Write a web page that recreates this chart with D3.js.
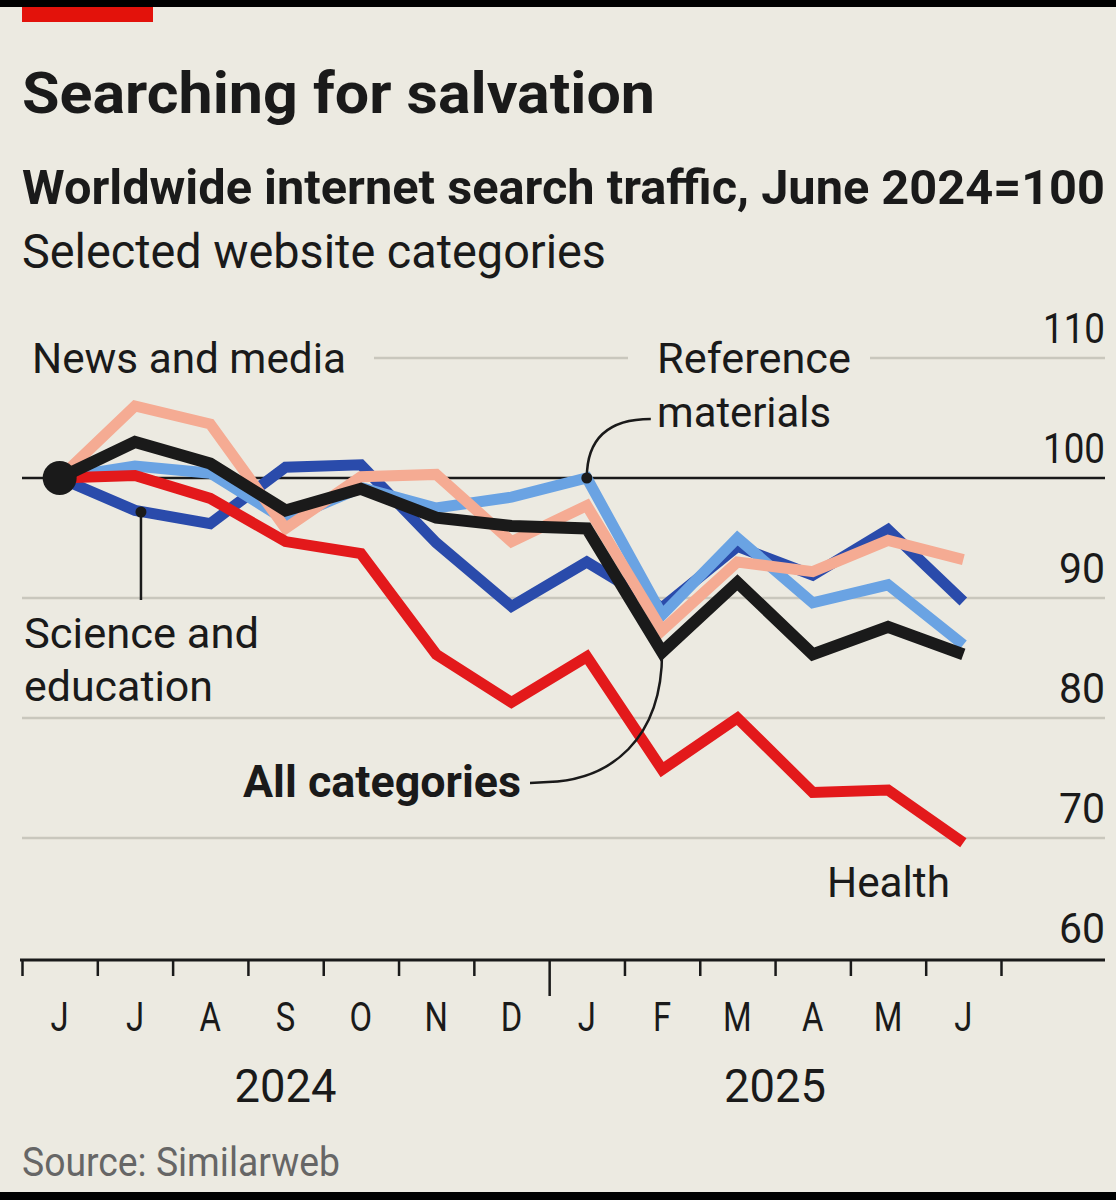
<!DOCTYPE html>
<html>
<head lang="en">
    <meta charset="UTF-8">
    <title>Searching for salvation</title>
    <script src="https://d3js.org/d3.v7.min.js"></script>
</head>
<body style="margin:0;background:#eceae1">
<svg id="chart" width="1116" height="1200"></svg>
<style>
    text { font-family: Roboto, "Liberation Sans", sans-serif; fill: #1a1a1a; }
</style>
<script>

    // data (June 2024 = 100)
    const MONTHS = ["J","J","A","S","O","N","D","J","F","M","A","M","J"];
    const YEARS = [{label:"2024", from:0, to:7}, {label:"2025", from:7, to:13}];
    const Y_TICKS = [60, 70, 80, 90, 100, 110];

    const SCIENCE   = [100, 97.3, 96.2, 100.9, 101.1, 94.6, 89.3, 93.0, 89.2, 94.3, 91.9, 95.7, 89.7];
    const REFERENCE = [100, 101.0, 100.4, 96.5, 99.2, 97.5, 98.4, 100, 88.6, 95.0, 89.6, 91.1, 86.1];
    const NEWS      = [100, 106.0, 104.5, 95.8, 100.1, 100.3, 94.7, 97.7, 87.3, 93.0, 92.2, 94.8, 93.2];
    const HEALTH    = [100, 100.2, 98.3, 94.7, 93.7, 85.3, 81.3, 85.1, 75.7, 80.0, 73.8, 74.0, 69.6];
    const ALL       = [100, 103.0, 101.2, 97.3, 99.1, 96.7, 96.0, 95.8, 85.5, 91.3, 85.3, 87.6, 85.3];

    const SERIES = [
        {name:"Science and education", values:SCIENCE, color:"#2a4bab", width:11},
        {name:"Reference materials", values:REFERENCE, color:"#6aa3e3", width:11},
        {name:"News and media", values:NEWS, color:"#f5ab93", width:11},
        {name:"Health", values:HEALTH, color:"#e3191b", width:11},
        {name:"All categories", values:ALL, color:"#1a1a1a", width:12}
    ];

    const BG = "#eceae1";
    let svg = d3.select('#chart');

    // frame
    svg.append('rect').attr('width', 1116).attr('height', 1200).attr('fill', BG);
    svg.append('rect').attr('width', 1116).attr('height', 7).attr('fill', '#000');
    svg.append('rect').attr('y', 1192).attr('width', 1116).attr('height', 8).attr('fill', '#000');
    svg.append('rect').attr('x', 22).attr('y', 7).attr('width', 131).attr('height', 15).attr('fill', '#e3120b');

    function txt(x, y, s, size, opts) {
        opts = opts || {};
        let t = svg.append('text')
            .attr('x', x).attr('y', y)
            .attr('font-size', size)
            .attr('font-weight', opts.weight || 400)
            .attr('text-anchor', opts.anchor || 'start')
            .text(s);
        if (opts.fill) t.style('fill', opts.fill);
        if (opts.len) t.attr('textLength', opts.len).attr('lengthAdjust', 'spacingAndGlyphs');
        return t;
    }

    // titles
    txt(22, 113, "Searching for salvation", 58, {weight:700, len:633});
    txt(22, 204, "Worldwide internet search traffic, June 2024=100", 49, {weight:700, len:1083});
    txt(22, 268, "Selected website categories", 48, {len:584});

    // scales
    let x = d3.scaleLinear().domain([0, MONTHS.length]).range([22, 1001]);
    let y = d3.scaleLinear().domain([60, 110]).range([958, 358]);
    const right = 1105;

    // gridlines
    svg.append('g').selectAll('line').data(Y_TICKS.filter(d => d !== 60 && d !== 100)).enter()
        .append('line')
        .attr('x1', 22).attr('x2', right)
        .attr('y1', d => y(d)).attr('y2', d => y(d))
        .attr('stroke', '#c9c7bd').attr('stroke-width', 2.5);

    // gaps in the 110 line behind the top labels
    svg.append('rect').attr('x', 22).attr('y', y(110) - 5).attr('width', 352).attr('height', 10).attr('fill', BG);
    svg.append('rect').attr('x', 628).attr('y', y(110) - 5).attr('width', 242).attr('height', 10).attr('fill', BG);

    // y labels
    svg.append('g').selectAll('text').data(Y_TICKS).enter()
        .append('text')
        .attr('x', right).attr('y', d => y(d) - 15)
        .attr('text-anchor', 'end')
        .attr('font-size', 42)
        .attr('textLength', d => d >= 100 ? 62 : 46)
        .attr('lengthAdjust', 'spacingAndGlyphs')
        .text(d => d);

    // x axis
    let xAxis = svg.append('g')
        .attr('transform', `translate(0,${y(60) + 2})`)
        .call(d3.axisBottom(x).tickValues(d3.range(MONTHS.length + 1)).tickFormat('').tickSize(16).tickSizeOuter(0));
    xAxis.select('.domain').remove();
    xAxis.selectAll('.tick line').attr('stroke', '#1a1a1a').attr('stroke-width', 2.5)
        .attr('y2', d => d === 7 ? 36 : 16);
    svg.append('line').attr('x1', 20).attr('x2', right)
        .attr('y1', y(60) + 2).attr('y2', y(60) + 2)
        .attr('stroke', '#1a1a1a').attr('stroke-width', 3);

    svg.append('g').selectAll('text').data(MONTHS).enter()
        .append('text')
        .attr('x', (d, i) => x(i + 0.5)).attr('y', 1031)
        .attr('text-anchor', 'middle')
        .attr('font-size', 41)
        .attr('transform', (d, i) => `translate(${x(i + 0.5)},0) scale(0.8,1) translate(${-x(i + 0.5)},0)`)
        .text(d => d);

    svg.append('g').selectAll('text').data(YEARS).enter()
        .append('text')
        .attr('x', d => x((d.from + d.to) / 2)).attr('y', 1102)
        .attr('text-anchor', 'middle')
        .attr('font-size', 46)
        .attr('textLength', 102).attr('lengthAdjust', 'spacingAndGlyphs')
        .text(d => d.label);

    // 100 baseline
    svg.append('line').attr('x1', 22).attr('x2', right)
        .attr('y1', y(100)).attr('y2', y(100))
        .attr('stroke', '#1a1a1a').attr('stroke-width', 2.5);

    // lines
    let line = d3.line().x((d, i) => x(i + 0.5)).y(d => y(d));
    svg.append('g').selectAll('path').data(SERIES).enter()
        .append('path')
        .attr('d', d => line(d.values))
        .attr('fill', 'none')
        .attr('stroke', d => d.color)
        .attr('stroke-width', d => d.width)
        .attr('stroke-linejoin', 'miter')
        .attr('stroke-linecap', 'butt');

    // start dot
    svg.append('circle').attr('cx', x(0.5)).attr('cy', y(100)).attr('r', 17).attr('fill', '#1a1a1a');

    // annotations
    txt(32, 373, "News and media", 42, {len:314});
    txt(657, 373, "Reference", 42, {len:194});
    txt(657, 427, "materials", 42, {len:174});
    txt(24, 648, "Science and", 42, {len:235});
    txt(24, 701, "education", 42, {len:189});
    txt(243, 797, "All categories", 44, {weight:700, len:278});
    txt(827, 897, "Health", 42, {len:123});

    // leaders
    let rx = x(7.5), ry = y(REFERENCE[7]);
    svg.append('path')
        .attr('d', `M${rx},${ry} C${rx},${ry - 40} ${rx + 22},${ry - 59} ${rx + 64},${ry - 59}`)
        .attr('fill', 'none').attr('stroke', '#1a1a1a').attr('stroke-width', 2.5);
    svg.append('circle').attr('cx', rx).attr('cy', ry).attr('r', 5.5).attr('fill', '#1a1a1a');

    let sx = x(1.5) + 6, sy = 512;
    svg.append('line').attr('x1', sx).attr('x2', sx).attr('y1', sy).attr('y2', y(90) + 2)
        .attr('stroke', '#1a1a1a').attr('stroke-width', 2.5);
    svg.append('circle').attr('cx', sx).attr('cy', sy).attr('r', 5.5).attr('fill', '#1a1a1a');

    let ax = x(8.5), ay = y(ALL[8]);
    svg.append('path')
        .attr('d', `M530,783 L548,782 C610,780 ${ax},740 ${ax},${ay}`)
        .attr('fill', 'none').attr('stroke', '#1a1a1a').attr('stroke-width', 2.5);

    // source
    txt(22, 1176, "Source: Similarweb", 40, {fill:'#666', len:318});

</script>

</body>
</html>
